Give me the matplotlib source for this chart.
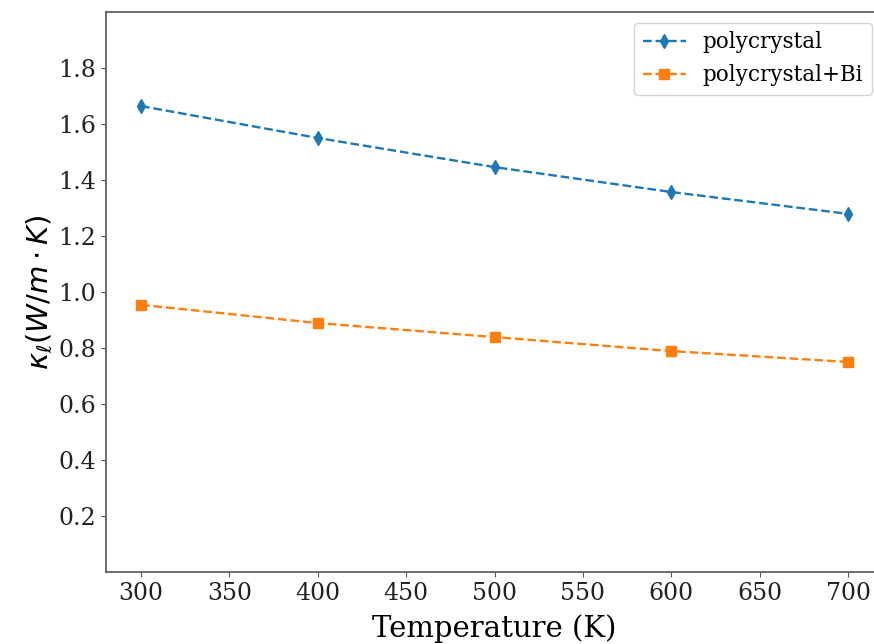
import matplotlib
matplotlib.use("Agg")
import matplotlib.pyplot as plt

# ---------- data ----------
temperature = [300, 400, 500, 600, 700]
kappa_poly = [1.664, 1.550, 1.446, 1.357, 1.279]
kappa_poly_bi = [0.954, 0.889, 0.839, 0.789, 0.750]
series_labels = ["polycrystal", "polycrystal+Bi"]
yticks = [0.2, 0.4, 0.6, 0.8, 1.0, 1.2, 1.4, 1.6, 1.8]

plt.rcParams["font.family"] = "DejaVu Serif"
plt.rcParams["mathtext.fontset"] = "dejavusans"

fig = plt.figure(figsize=(8.74, 6.44), dpi=100)
# right spine falls just outside the picture, as in the reference crop
ax = fig.add_axes([0.1209, 0.1118, 0.8899, 0.8696])

ax.plot(temperature, kappa_poly, "--", marker="d", markersize=7, lw=1.7,
        color="#1f77b4", label=series_labels[0])
ax.plot(temperature, kappa_poly_bi, "--", marker="s", markersize=6.5, lw=1.7,
        color="#ff7f0e", label=series_labels[1])

ax.set_xlim(280, 720)
ax.set_ylim(0, 2.0)
ax.set_yticks(yticks)
ax.set_xticks(range(300, 701, 50))
ax.tick_params(labelsize=17, colors="#555555", labelcolor="#222222")
for s in ax.spines.values():
    s.set_color("#555555")
    s.set_linewidth(1.2)

ax.set_xlabel("Temperature (K)", fontsize=21, labelpad=7)
ax.set_ylabel(r"$\kappa_{\ell} (W/m\cdot K)$", fontsize=21, labelpad=2)
ax.legend(fontsize=15.5, loc="upper right", bbox_to_anchor=(0.999, 1.0))

fig.savefig("out.png", dpi=100)
plt.close(fig)
